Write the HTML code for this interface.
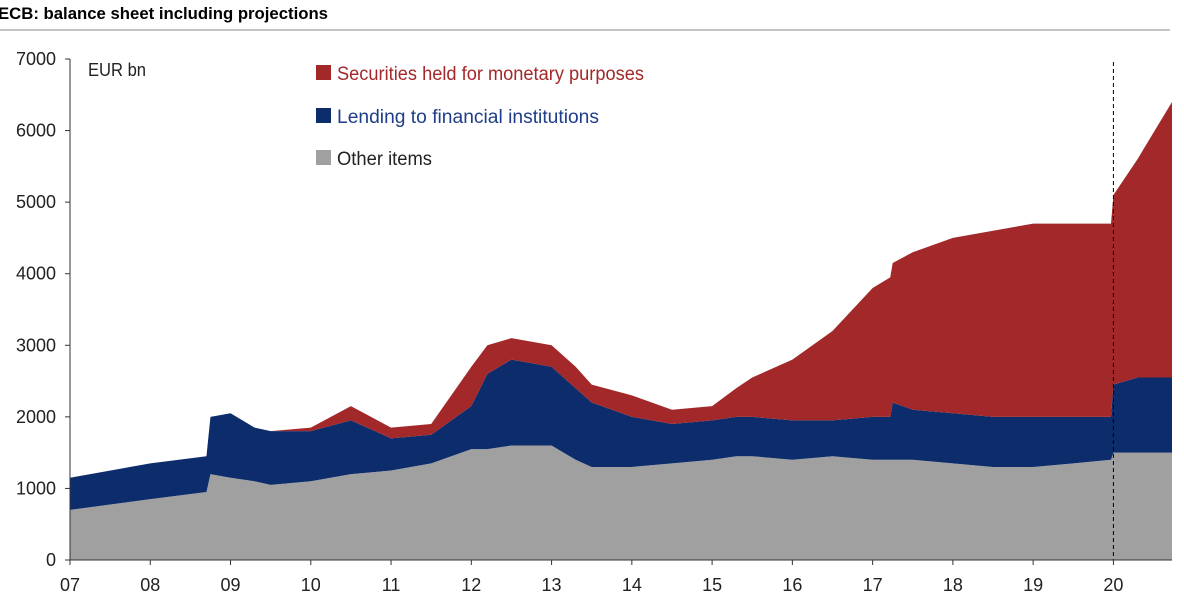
<!DOCTYPE html>
<html><head><meta charset="utf-8"><style>
body{margin:0;background:#fff;}
svg{display:block;font-family:"Liberation Sans Narrow","Liberation Sans",sans-serif;}
</style></head><body>
<svg id="chart" width="1184" height="613">
<text x="-2" y="19" font-size="17" font-weight="bold" fill="#000" textLength="330" lengthAdjust="spacingAndGlyphs">ECB: balance sheet including projections</text>
<line x1="0" y1="30" x2="1170" y2="30" stroke="#888" stroke-width="1"/>
<g id="areas"></g>
<g id="axes"></g>
<text x="88" y="76" font-size="18" fill="#222" textLength="58" lengthAdjust="spacingAndGlyphs">EUR bn</text>
<g>
<g><rect x="316" y="65" width="15" height="15" fill="#a3282a"/><text x="337" y="80" font-size="19" fill="#a3282a" textLength="307" lengthAdjust="spacingAndGlyphs">Securities held for monetary purposes</text></g>
<g><rect x="316" y="108" width="15" height="15" fill="#0c2c6b"/><text x="337" y="123" font-size="19" fill="#1f3d8a" textLength="262" lengthAdjust="spacingAndGlyphs">Lending to financial institutions</text></g>
<g><rect x="316" y="150" width="15" height="15" fill="#a0a0a0"/><text x="337" y="165" font-size="19" fill="#222" textLength="95" lengthAdjust="spacingAndGlyphs">Other items</text></g>
</g>
</svg>
<script>
const times=[2007,2008,2008.7,2008.75,2009,2009.3,2009.5,2010,2010.5,2011,2011.5,2012,2012.2,2012.5,2013,2013.3,2013.5,2014,2014.5,2015,2015.3,2015.5,2016,2016.5,2017,2017.22,2017.25,2017.5,2018,2018.5,2019,2019.5,2019.97,2020.0,2020.3,2020.73];
const otherItems=[700,850,950,1200,1150,1100,1050,1100,1200,1250,1350,1550,1550,1600,1600,1400,1300,1300,1350,1400,1450,1450,1400,1450,1400,1400,1400,1400,1350,1300,1300,1350,1400,1500,1500,1500];
const lending=[450,500,500,800,900,750,750,700,750,450,400,600,1050,1200,1100,1000,900,700,550,550,550,550,550,500,600,600,800,700,700,700,700,650,600,950,1050,1050];
const securities=[0,0,0,0,0,0,0,50,200,150,150,550,400,300,300,300,250,300,200,200,400,550,850,1250,1800,1950,1950,2200,2450,2600,2700,2700,2700,2650,3050,3850];
const yTicks=[0,1000,2000,3000,4000,5000,6000,7000];
const xTicks=["07","08","09","10","11","12","13","14","15","16","17","18","19","20"];
const projectionStart=2020.0;
const L=70,R=1172,B=560,T=59;
const x=t=>L+(t-2007)/(2020.73-2007)*(R-L);
const y=v=>B-v/7000*(B-T);
const NS="http://www.w3.org/2000/svg";
const areas=document.getElementById('areas'),axes=document.getElementById('axes');
function area(lo,hi,color,name){
  let d="M"+times.map((t,i)=>x(t)+","+y(hi[i])).join(" L");
  for(let i=times.length-1;i>=0;i--)d+=" L"+x(times[i])+","+y(lo[i]);
  const p=document.createElementNS(NS,'path');p.setAttribute('d',d+"Z");p.setAttribute('fill',color);
  
  
  areas.appendChild(p);
}
const zero=times.map(()=>0);
const c1=otherItems.slice(),c2=c1.map((v,i)=>v+lending[i]),c3=c2.map((v,i)=>v+securities[i]);
area(zero,c1,"#a0a0a0","area-other-items");
area(c1,c2,"#0c2c6b","area-lending");
area(c2,c3,"#a3282a","area-securities");
function line(x1,y1,x2,y2,st,extra){const l=document.createElementNS(NS,'line');l.setAttribute('x1',x1);l.setAttribute('y1',y1);l.setAttribute('x2',x2);l.setAttribute('y2',y2);l.setAttribute('stroke',st);if(extra)l.setAttribute('stroke-dasharray',extra);return l;}
const dl=line(x(projectionStart),62,x(projectionStart),B,"#000","4,3");


axes.appendChild(dl);
const ya=line(L,T,L,B,"#333");axes.appendChild(ya);
const xa=line(L,B,R,B,"#333");axes.appendChild(xa);
yTicks.forEach(v=>{
  const t=document.createElementNS(NS,'text');t.setAttribute('x',L-14);t.setAttribute('y',y(v)+6);t.setAttribute('text-anchor','end');t.setAttribute('font-size','18');t.setAttribute('fill','#222');t.textContent=v;
  
  
  axes.appendChild(t);
  axes.appendChild(line(L-5,y(v),L,y(v),"#333"));
});
xTicks.forEach((lab,i)=>{
  const xx=x(2007+i);
  axes.appendChild(line(xx,B,xx,B+5,"#333"));
  const t=document.createElementNS(NS,'text');t.setAttribute('x',xx);t.setAttribute('y',B+31);t.setAttribute('text-anchor','middle');t.setAttribute('font-size','18');t.setAttribute('fill','#222');t.textContent=lab;
  
  
  axes.appendChild(t);
});
</script>
</body></html>
